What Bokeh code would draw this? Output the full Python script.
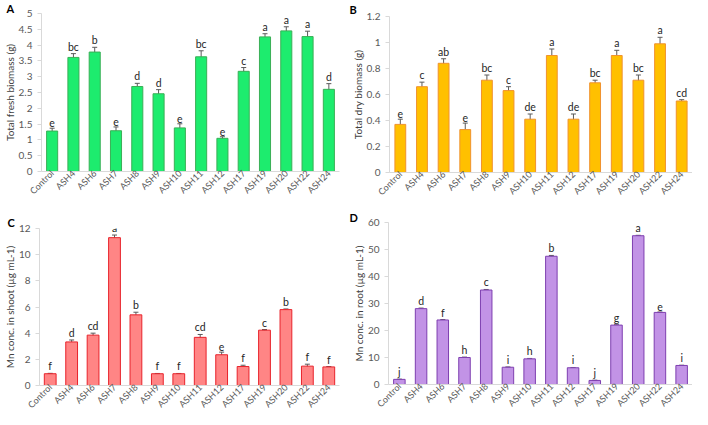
import math
from bokeh.plotting import figure
from bokeh.layouts import column, row
from bokeh.models import (ColumnDataSource, Range1d, FactorRange, FixedTicker,
                          NumeralTickFormatter, Whisker, TeeHead)
from bokeh.core.properties import value
from bokeh.embed import file_html
from bokeh.resources import INLINE

categories = ["Control", "ASH4", "ASH6", "ASH7", "ASH8", "ASH9", "ASH10", "ASH11",
              "ASH12", "ASH17", "ASH19", "ASH20", "ASH22", "ASH24"]

fresh_mean = [1.28, 3.61, 3.78, 1.29, 2.69, 2.46, 1.38, 3.63, 1.05, 3.17, 4.26, 4.45, 4.27, 2.60]
fresh_err = [0.09, 0.12, 0.15, 0.12, 0.10, 0.13, 0.13, 0.19, 0.05, 0.12, 0.10, 0.13, 0.17, 0.18]
fresh_letters = ["e", "bc", "b", "e", "d", "d", "e", "bc", "e", "c", "a", "a", "a", "d"]
fresh_ticks = [0, 0.5, 1, 1.5, 2, 2.5, 3, 3.5, 4, 4.5, 5]

dry_mean = [0.37, 0.66, 0.84, 0.33, 0.71, 0.63, 0.41, 0.90, 0.41, 0.69, 0.90, 0.71, 0.99, 0.55]
dry_err = [0.04, 0.035, 0.035, 0.05, 0.04, 0.03, 0.04, 0.05, 0.04, 0.02, 0.04, 0.04, 0.05, 0.01]
dry_letters = ["e", "c", "ab", "e", "bc", "c", "de", "a", "de", "bc", "a", "bc", "a", "cd"]
dry_ticks = [0, 0.2, 0.4, 0.6, 0.8, 1, 1.2]

shoot_mean = [0.90, 3.33, 3.85, 11.30, 5.40, 0.90, 0.90, 3.68, 2.35, 1.45, 4.23, 5.80, 1.48, 1.42]
shoot_err = [0.03, 0.15, 0.15, 0.20, 0.20, 0.02, 0.02, 0.22, 0.20, 0.10, 0.05, 0.05, 0.15, 0.03]
shoot_letters = ["f", "d", "cd", "a", "b", "f", "f", "cd", "e", "f", "c", "b", "f", "f"]
shoot_ticks = [0, 2, 4, 6, 8, 10, 12]

root_mean = [1.9, 28.1, 23.9, 10.0, 35.0, 6.4, 9.5, 47.5, 6.2, 1.5, 22.0, 55.1, 26.7, 7.05]
root_err = [0.1, 0.2, 0.15, 0.15, 0.2, 0.1, 0.15, 0.3, 0.1, 0.1, 0.15, 0.15, 0.15, 0.1]
root_letters = ["j", "d", "f", "h", "c", "i", "h", "b", "i", "j", "g", "a", "e", "i"]
root_ticks = [0, 10, 20, 30, 40, 50, 60]

FONT = "Lato"


def make_panel(tag, ylabel, means, errs, letters, ticks, fill, line,
               width, height, bl, br, bt, bb, bar_w, tag_x, tag_standoff):
    p = figure(x_range=FactorRange(*categories), y_range=Range1d(ticks[0], ticks[-1]),
               width=width, height=height, output_backend="svg", toolbar_location=None,
               min_border_left=bl, min_border_right=br, min_border_top=bt, min_border_bottom=bb,
               frame_align=False)
    p.outline_line_color = None
    p.grid.visible = False
    p.background_fill_color = "white"
    p.border_fill_color = "white"

    p.title.text = tag
    p.title.align = "left"
    p.title.offset = tag_x - bl
    p.title.standoff = tag_standoff
    p.title.vertical_align = "bottom"
    p.title.text_font = FONT
    p.title.text_font_size = "11px"
    p.title.text_font_style = "bold"
    p.title.text_color = "black"

    src = ColumnDataSource(dict(
        cat=categories, mean=means,
        lower=[m - e for m, e in zip(means, errs)],
        upper=[m + e for m, e in zip(means, errs)],
        letter=letters))

    p.vbar(x="cat", top="mean", width=bar_w, source=src, fill_color=fill,
           line_color=line, line_width=1)
    w = Whisker(base="cat", lower="lower", upper="upper", source=src,
                line_color="#5a5a5a", line_width=1,
                upper_head=TeeHead(size=5, line_color="#5a5a5a", line_width=1),
                lower_head=TeeHead(size=5, line_color="#5a5a5a", line_width=1))
    p.add_layout(w)
    p.text(x="cat", y="upper", text="letter", source=src, text_align="center",
           text_baseline="bottom", y_offset=-1, text_font=value(FONT),
           text_font_size="10.5px", text_color="#262626")

    ya = p.yaxis[0]
    ya.ticker = FixedTicker(ticks=ticks)
    ya.formatter = NumeralTickFormatter(format="0.[0]")
    ya.axis_line_color = "#d9d9d9"
    ya.major_tick_line_color = "#d9d9d9"
    ya.major_tick_out = 4
    ya.major_tick_in = 0
    ya.minor_tick_line_color = None
    ya.minor_tick_out = 0
    ya.major_label_text_font = FONT
    ya.major_label_text_font_size = "10px"
    ya.major_label_text_color = "#595959"
    ya.major_label_standoff = 5
    ya.axis_label = ylabel
    ya.axis_label_text_font = FONT
    ya.axis_label_text_font_size = "10px"
    ya.axis_label_text_font_style = "normal"
    ya.axis_label_text_color = "#404040"
    ya.axis_label_standoff = 0

    xa = p.xaxis[0]
    xa.axis_line_color = "#d9d9d9"
    xa.major_tick_line_color = None
    xa.major_tick_out = 0
    xa.major_tick_in = 0
    xa.minor_tick_line_color = None
    xa.major_label_orientation = math.pi / 4
    xa.major_label_text_font = FONT
    xa.major_label_text_font_size = "9px"
    xa.major_label_text_color = "#595959"
    xa.major_label_standoff = 0
    return p


pA = make_panel("A", "Total fresh biomass (g)", fresh_mean, fresh_err, fresh_letters,
                fresh_ticks, "#1dec6e", "#3aaf56", 342, 205, 35, 3, 13, 34, 0.52, 0, -2.5)
pB = make_panel("B", "Total dry biomass (g)", dry_mean, dry_err, dry_letters,
                dry_ticks, "#ffc000", "#f0922e", 350, 205, 47, 0, 16, 33, 0.5, 7, 0.5)
pC = make_panel("C", "Mn conc. in shoot (µg mL-1)", shoot_mean, shoot_err, shoot_letters,
                shoot_ticks, "#ff8585", "#e8232b", 342, 212, 32, 3, 23, 29, 0.55, 0, -0.5)
pD = make_panel("D", "Mn conc. in root (µg mL-1)", root_mean, root_err, root_letters,
                root_ticks, "#c293e6", "#7e3fb0", 350, 212, 46, 0, 17, 33, 0.53, 7, -3.5)

layout = column(row(pA, pB), row(pC, pD))
open("out.html", "w").write(file_html(layout, INLINE))
